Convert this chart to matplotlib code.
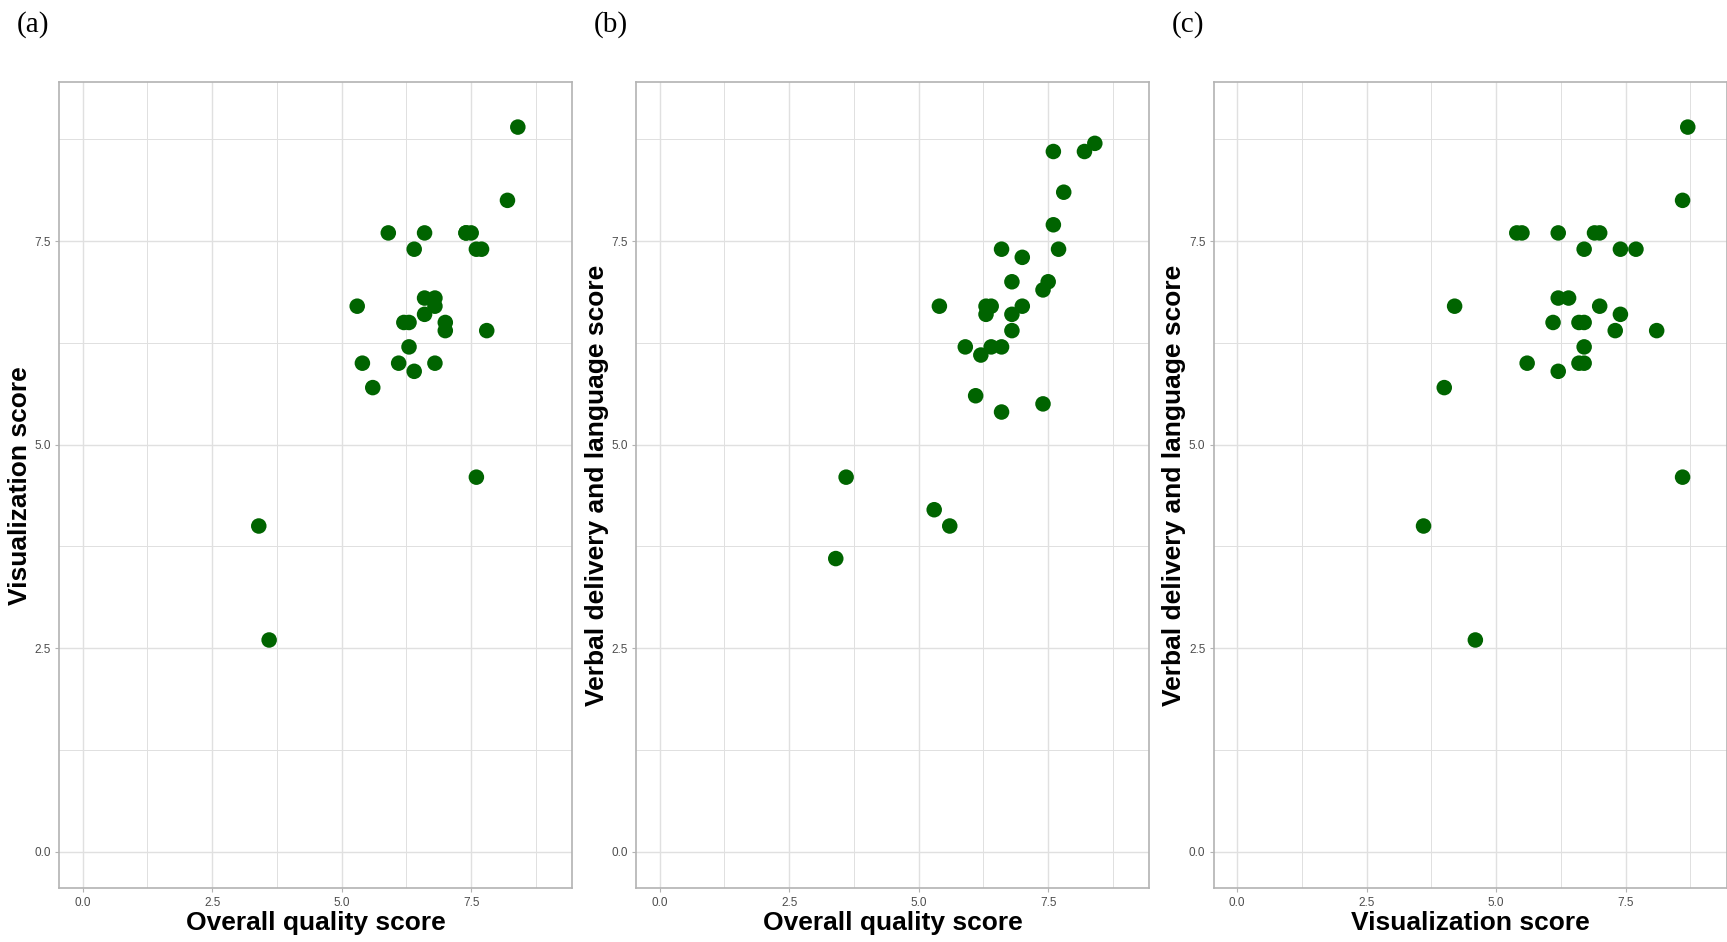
import numpy as np
import matplotlib
matplotlib.use("Agg")
import matplotlib.pyplot as plt
from matplotlib.ticker import MultipleLocator

# (a) overall quality vs visualization
overall_a = [8.4, 8.2, 5.9, 6.6, 7.4, 7.4, 7.5, 6.4, 7.6, 7.7, 5.3, 6.6, 6.8,
             6.8, 6.6, 6.2, 6.3, 7.0, 7.0, 7.8, 6.3, 5.4, 6.1, 6.8, 6.4, 5.6,
             7.6, 3.4, 3.6]
visual_a = [8.9, 8.0, 7.6, 7.6, 7.6, 7.6, 7.6, 7.4, 7.4, 7.4, 6.7, 6.8, 6.8,
            6.7, 6.6, 6.5, 6.5, 6.5, 6.4, 6.4, 6.2, 6.0, 6.0, 6.0, 5.9, 5.7,
            4.6, 4.0, 2.6]

# (b) overall quality vs verbal delivery
overall_b = [8.4, 7.6, 8.2, 7.8, 7.6, 6.6, 7.7, 7.0, 6.8, 7.5, 7.4, 5.4, 6.3,
             6.4, 7.0, 6.3, 6.8, 6.8, 5.9, 6.4, 6.6, 6.2, 6.1, 7.4, 6.6, 3.6,
             5.3, 5.6, 3.4]
verbal_b = [8.7, 8.6, 8.6, 8.1, 7.7, 7.4, 7.4, 7.3, 7.0, 7.0, 6.9, 6.7, 6.7,
            6.7, 6.7, 6.6, 6.6, 6.4, 6.2, 6.2, 6.2, 6.1, 5.6, 5.5, 5.4, 4.6,
            4.2, 4.0, 3.6]

# (c) visualization vs verbal delivery
visual_c = [8.7, 8.6, 5.4, 5.5, 6.2, 6.9, 7.0, 6.7, 7.4, 7.7, 4.2, 6.2, 6.4,
            7.0, 7.4, 6.1, 6.6, 6.7, 7.3, 8.1, 6.7, 5.6, 6.6, 6.7, 6.2, 4.0,
            8.6, 3.6, 4.6]
verbal_c = [8.9, 8.0, 7.6, 7.6, 7.6, 7.6, 7.6, 7.4, 7.4, 7.4, 6.7, 6.8, 6.8,
            6.7, 6.6, 6.5, 6.5, 6.5, 6.4, 6.4, 6.2, 6.0, 6.0, 6.0, 5.9, 5.7,
            4.6, 4.0, 2.6]

panels = [
    ("(a)", overall_a, visual_a, "Overall quality score", "Visualization score"),
    ("(b)", overall_b, verbal_b, "Overall quality score",
     "Verbal delivery and language score"),
    ("(c)", visual_c, verbal_c, "Visualization score",
     "Verbal delivery and language score"),
]

POINT = "#006400"
GRID = "#E0E0E0"
BORDER = "#B3B3B3"

fig = plt.figure(figsize=(17.27, 9.42), dpi=100)
lefts = [0.03434, 0.36844, 0.70278]
width = 0.2970
bottom, top = 0.05701, 0.91263

for left, (tag, xs, ys, xlab, ylab) in zip(lefts, panels):
    ax = fig.add_axes([left, bottom, width, top - bottom])
    ax.scatter(xs, ys, s=125, color=POINT, edgecolors="none", zorder=3)

    ax.set_xlim(-0.45, 9.45)
    ax.set_ylim(-0.45, 9.45)
    for axis in (ax.xaxis, ax.yaxis):
        axis.set_major_locator(MultipleLocator(2.5))
        axis.set_minor_locator(MultipleLocator(1.25))
    ax.set_xticks([0, 2.5, 5.0, 7.5])
    ax.set_yticks([0, 2.5, 5.0, 7.5])
    ax.set_xticklabels(["0.0", "2.5", "5.0", "7.5"])
    ax.set_yticklabels(["0.0", "2.5", "5.0", "7.5"])
    ax.grid(which="major", color=GRID, lw=1.0, zorder=0)
    ax.grid(which="minor", color=GRID, lw=0.7, zorder=0)
    ax.set_axisbelow(True)
    ax.tick_params(which="major", length=3, width=0.8, color=BORDER,
                   labelsize=8.5, labelcolor="#4D4D4D", pad=3)
    ax.tick_params(which="minor", length=0)
    for sp in ax.spines.values():
        sp.set_color(BORDER)
        sp.set_linewidth(1.2)

    ax.set_xlabel(xlab, fontsize=19, fontweight="bold",
                  family="Liberation Sans", labelpad=2)
    ax.set_ylabel(ylab, fontsize=19, fontweight="bold",
                  family="Liberation Sans", labelpad=2)
    for lbl in ax.get_xticklabels() + ax.get_yticklabels():
        lbl.set_family("Liberation Sans")

    fig.text(left - 0.0245, 0.9735, tag, fontsize=21, family="Liberation Serif",
             va="center", ha="left")

fig.savefig("out.png", dpi=100)
